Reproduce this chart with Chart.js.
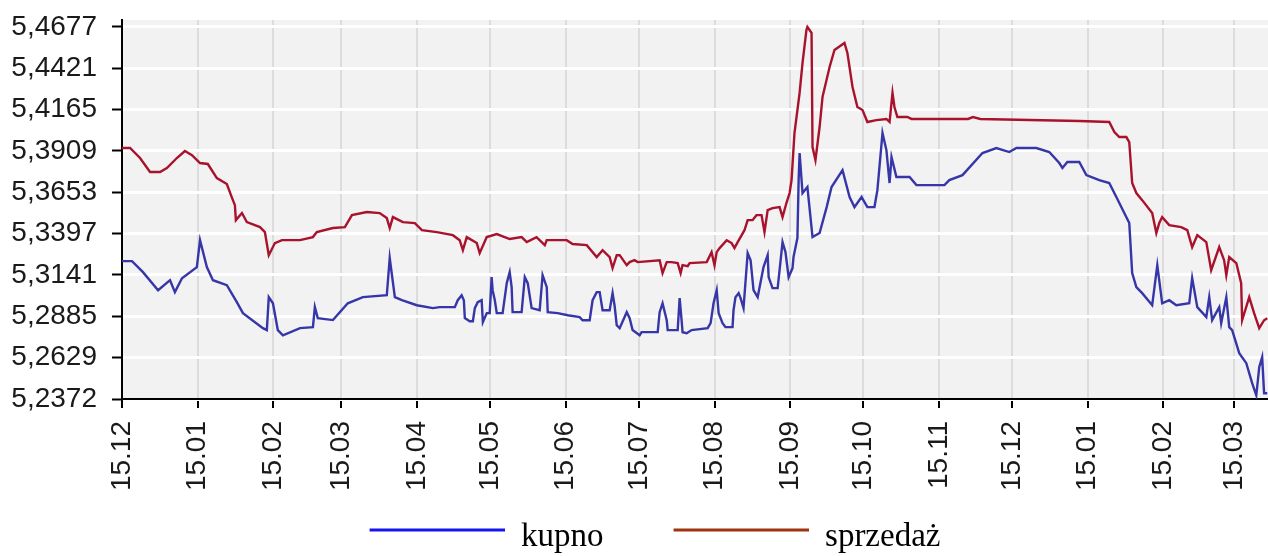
<!DOCTYPE html>
<html>
<head>
<meta charset="utf-8">
<script src="https://cdn.jsdelivr.net/npm/chart.js@4"></script>
<style>
  body { margin: 0; background: #fff; }
</style>
</head>
<body>
<canvas id="chart" width="1268" height="556"></canvas>
<script>
// x = days counted from 15.12
const tickDays = [0, 31, 62, 90, 121, 151, 182, 212, 243, 274, 304, 335, 365, 396, 427, 456];
const tickLabels = ['15.12', '15.01', '15.02', '15.03', '15.04', '15.05', '15.06', '15.07',
  '15.08', '15.09', '15.10', '15.11', '15.12', '15.01', '15.02', '15.03'];
const yTicks = [5.2372, 5.2629, 5.2885, 5.3141, 5.3397, 5.3653, 5.3909, 5.4165, 5.4421, 5.4677];

const seriesNames = ['kupno', 'sprzedaż'];
const lineColors = ['#3636a8', '#a8122c'];
const legendColors = ['#1414f0', '#a0320f'];

const kupnoDays = [
  0, 4.1, 8.6, 14.8, 19.7, 21.7, 24.6, 30.7, 32, 34.8,
  37.3, 43, 47.1, 49.6, 57.8, 59.4, 60.2, 61.9, 63.9, 66,
  73, 78.3, 79.1, 80.3, 86.5, 92.6, 98.8, 108.6, 109.8, 111.9,
  114.8, 120.9, 127.5, 130.3, 136.5, 137.7, 139.3, 140.2, 140.6, 142.6,
  143.9, 144.7, 145.9, 147.5, 148, 149.6, 150.8, 151.6, 152, 152.9,
  153.7, 156.1, 157.8, 159, 159.8, 160.2, 163.9, 165.2, 166.4, 168,
  171.3, 172.5, 174.2, 174.6, 178.7, 182.8, 187.7, 188.9, 191.8, 193,
  194.7, 195.9, 197.1, 200, 201.2, 202, 202.9, 204.1, 207, 208.2,
  209.4, 212.3, 213.1, 219.7, 220.5, 221.7, 223.4, 223.8, 227.9, 228.7,
  229.5, 229.9, 231.6, 233.6, 240.2, 241.4, 242.6, 243.9, 244.7, 246.3,
  247.5, 250.4, 250.8, 251.6, 252.9, 253.7, 254.9, 256.6, 257.8, 259,
  260.7, 263.1, 264.8, 265.2, 266.8, 268.9, 270.9, 272.1, 273.4, 275,
  275.4, 277, 277.5, 277.9, 279.1, 281.1, 283.2, 286.1, 289, 291,
  295.5, 298.4, 300.4, 303.3, 305.7, 308.6, 309.8, 311.9, 313.5, 314.8,
  315.6, 317.6, 323, 325.8, 337.3, 339.3, 344.7, 352.9, 358.6, 363.9,
  366.8, 375, 380.3, 384.4, 385.7, 387.7, 392.6, 395.5, 400.8, 404.9,
  407.8, 413.1, 414.3, 416, 418.4, 422.5, 424.6, 426.6, 429.5, 432.4,
  437.7, 438.9, 441, 444.7, 445.9, 447.1, 450, 450.8, 452.9, 454.1,
  455.3, 458.2, 461.1, 463.5, 465.2, 466.4, 467.6, 468.4, 469.7];
const kupnoValues = [
  5.3226, 5.3226, 5.3158, 5.3046, 5.3108, 5.3034, 5.3120, 5.3189, 5.3356, 5.3189,
  5.3108, 5.3077, 5.2972, 5.2904, 5.2811, 5.2799, 5.3003, 5.2965, 5.2799, 5.2767,
  5.2811, 5.2817, 5.2942, 5.2873, 5.2861, 5.2965, 5.3003, 5.3015, 5.3245, 5.3003,
  5.2984, 5.2953, 5.2935, 5.2941, 5.2941, 5.2984, 5.3015, 5.2984, 5.2873, 5.2854,
  5.2854, 5.2935, 5.2972, 5.2984, 5.2848, 5.2904, 5.2904, 5.3127, 5.3046, 5.2984,
  5.2904, 5.2904, 5.3090, 5.3158, 5.3065, 5.2910, 5.2910, 5.3127, 5.3090, 5.2935,
  5.2922, 5.3139, 5.3065, 5.2910, 5.2904, 5.2891, 5.2879, 5.2860, 5.2860, 5.2984,
  5.3034, 5.3034, 5.2922, 5.2922, 5.3028, 5.2953, 5.2829, 5.2811, 5.2910, 5.2873,
  5.2799, 5.2767, 5.2786, 5.2786, 5.2910, 5.2965, 5.2860, 5.2799, 5.2799, 5.2997,
  5.2860, 5.2786, 5.2780, 5.2799, 5.2811, 5.2842, 5.2965, 5.3046, 5.2904, 5.2842,
  5.2817, 5.2817, 5.2922, 5.3003, 5.3028, 5.2997, 5.2935, 5.3276, 5.3232, 5.3046,
  5.3003, 5.3189, 5.3263, 5.3127, 5.3059, 5.3059, 5.3344, 5.3282, 5.3127, 5.3183,
  5.3251, 5.3369, 5.3728, 5.3896, 5.3648, 5.3685, 5.3375, 5.3400, 5.3561, 5.3685,
  5.3790, 5.3623, 5.3561, 5.3623, 5.3561, 5.3561, 5.3666, 5.4020, 5.3914, 5.3710,
  5.3871, 5.3747, 5.3747, 5.3697, 5.3697, 5.3728, 5.3759, 5.3896, 5.3927, 5.3902,
  5.3927, 5.3927, 5.3902, 5.3834, 5.3803, 5.3840, 5.3840, 5.3759, 5.3728, 5.3710,
  5.3623, 5.3462, 5.3152, 5.3065, 5.3028, 5.2953, 5.3201, 5.2965, 5.2984, 5.2953,
  5.2965, 5.3121, 5.2941, 5.2879, 5.3003, 5.2861, 5.2941, 5.2842, 5.3003, 5.2817,
  5.2799, 5.2656, 5.2594, 5.2470, 5.2395, 5.2569, 5.2631, 5.2408, 5.2408];

const sprzedazDays = [
  0, 3.3, 7.4, 11.5, 15.6, 18.4, 22.5, 25.8, 28.7, 32,
  35.2, 38.9, 43, 45, 46.3, 46.7, 49.2, 51.2, 56.6, 58.6,
  60.2, 62.7, 65.6, 73, 78.3, 79.9, 86.5, 91.4, 94.3, 100.4,
  105.7, 108.6, 109.8, 111.1, 115.2, 120.1, 123, 129.1, 135.7, 138.5,
  139.8, 141.4, 145.5, 146.7, 149.6, 153.7, 159, 163.9, 166, 170,
  173.4, 174.2, 182.4, 184.8, 190.6, 194.7, 197.1, 200, 201.2, 202.9,
  204.1, 207, 208.2, 210.2, 211.5, 220.5, 221.7, 223.4, 225.4, 227.9,
  229.1, 229.9, 232, 232.8, 239.8, 241.8, 243, 243.9, 245.1, 248,
  250, 251.2, 252.5, 255.3, 256.6, 258.6, 260.2, 262.3, 263.5, 264.8,
  266.8, 269.7, 270.9, 272.5, 273.8, 274.6, 275.8, 277.9, 279.1, 280.7,
  281.1, 282.8, 283.2, 284.4, 286.1, 287.3, 290.2, 292.2, 296.3, 297.5,
  299.6, 301.6, 303.7, 305.7, 309.4, 313.5, 314.8, 316, 316.8, 318,
  322.1, 323.8, 347, 349, 352, 392.6, 404.9, 407, 409, 411.9,
  413.1, 414.3, 416, 418.4, 422.5, 424.2, 425.4, 426.6, 429.5, 434.4,
  436.9, 438.9, 441, 444.7, 446.7, 450, 452, 452.9, 454.1, 457,
  459, 459.4, 462.3, 464.3, 466.4, 468.4, 469.7];
const sprzedazValues = [
  5.3927, 5.3927, 5.3865, 5.3778, 5.3778, 5.3803, 5.3865, 5.3908, 5.3883, 5.3834,
  5.3828, 5.3741, 5.3704, 5.3623, 5.3573, 5.3480, 5.3524, 5.3468, 5.3437, 5.3406,
  5.3263, 5.3338, 5.3356, 5.3356, 5.3375, 5.3406, 5.3431, 5.3437, 5.3511, 5.3530,
  5.3524, 5.3493, 5.3431, 5.3499, 5.3468, 5.3462, 5.3418, 5.3406, 5.3387, 5.3356,
  5.3294, 5.3375, 5.3338, 5.3276, 5.3375, 5.3394, 5.3363, 5.3375, 5.3344, 5.3375,
  5.3325, 5.3356, 5.3356, 5.3332, 5.3325, 5.3251, 5.3294, 5.3251, 5.3183, 5.3263,
  5.3263, 5.3201, 5.3220, 5.3232, 5.3220, 5.3232, 5.3152, 5.3220, 5.3220, 5.3214,
  5.3152, 5.3201, 5.3195, 5.3214, 5.3220, 5.3282, 5.3201, 5.3282, 5.3307, 5.3356,
  5.3338, 5.3307, 5.3344, 5.3418, 5.3480, 5.3480, 5.3511, 5.3511, 5.3406, 5.3542,
  5.3555, 5.3561, 5.3499, 5.3586, 5.3648, 5.3728, 5.4020, 5.4268, 5.4454, 5.4658,
  5.4677, 5.4640, 5.3933, 5.3852, 5.4057, 5.4243, 5.4429, 5.4534, 5.4578, 5.4516,
  5.4305, 5.4181, 5.4162, 5.4088, 5.4100, 5.4107, 5.4088, 5.4268, 5.4181, 5.4119,
  5.4119, 5.4107, 5.4107, 5.4119, 5.4107, 5.4094, 5.4088, 5.4026, 5.3995, 5.3995,
  5.3964, 5.3710, 5.3648, 5.3604, 5.3524, 5.3400, 5.3462, 5.3499, 5.3449, 5.3437,
  5.3418, 5.3313, 5.3387, 5.3344, 5.3170, 5.3313, 5.3232, 5.3139, 5.3251, 5.3214,
  5.3090, 5.2860, 5.3003, 5.2904, 5.2811, 5.2860, 5.2873];

function toPoints(days, values) {
  var pts = [];
  for (var i = 0; i < days.length; i++) {
    pts.push({ x: days[i], y: values[i] });
  }
  return pts;
}

// legend marker: a short thick line, sitting a little above the text middle,
// with some empty room on its left so the two entries sit further apart
function legendLine(color) {
  var c = document.createElement('canvas');
  c.width = 177;
  c.height = 20;
  var g = c.getContext('2d');
  g.fillStyle = color;
  g.fillRect(42, 1, 135, 3);
  return c;
}

// grey plot background
const plotBg = {
  id: 'plotBg',
  beforeDraw(chart) {
    const a = chart.chartArea;
    const ctx = chart.ctx;
    ctx.save();
    ctx.fillStyle = '#f2f2f2';
    ctx.fillRect(a.left, a.top, a.right - a.left, a.bottom - a.top);
    ctx.restore();
  }
};

const tickFont = { family: 'Liberation Sans', size: 28 };

new Chart(document.getElementById('chart').getContext('2d'), {
  type: 'line',
  data: {
    datasets: [
      {
        label: seriesNames[0],
        data: toPoints(kupnoDays, kupnoValues),
        borderColor: lineColors[0],
        borderWidth: 2.4,
        pointRadius: 0,
        tension: 0
      },
      {
        label: seriesNames[1],
        data: toPoints(sprzedazDays, sprzedazValues),
        borderColor: lineColors[1],
        borderWidth: 2.4,
        pointRadius: 0,
        tension: 0
      }
    ]
  },
  options: {
    responsive: false,
    animation: false,
    layout: { padding: { top: 20, left: 0, right: 0, bottom: 0 } },
    plugins: {
      tooltip: { enabled: false },
      legend: {
        position: 'bottom',
        maxHeight: 63,
        labels: {
          font: { family: 'Liberation Serif', size: 33 },
          color: '#000',
          usePointStyle: true,
          pointStyleWidth: 177,
          padding: 28,
          generateLabels: function (chart) {
            return chart.data.datasets.map(function (ds, i) {
              return {
                text: ds.label,
                fillStyle: legendColors[i],
                strokeStyle: legendColors[i],
                lineWidth: 0,
                pointStyle: legendLine(legendColors[i]),
                hidden: false,
                datasetIndex: i
              };
            });
          }
        }
      }
    },
    scales: {
      x: {
        type: 'linear',
        min: 0,
        max: 470,
        afterBuildTicks: function (scale) {
          scale.ticks = tickDays.map(function (d) { return { value: d }; });
        },
        afterFit: function (scale) {
          scale.height = 556 - 399 - scale.chart.legend.height;
          scale.paddingLeft = 0;
          scale.paddingRight = 0;
        },
        ticks: {
          autoSkip: false,
          maxRotation: 90,
          minRotation: 90,
          padding: 13,
          color: '#1a1a1a',
          font: tickFont,
          callback: function (v, i) { return tickLabels[i]; }
        },
        grid: {
          color: '#dcdcdc',
          lineWidth: 2,
          tickColor: '#000',
          tickWidth: 2,
          tickLength: 9
        },
        border: { color: '#000', width: 2 }
      },
      y: {
        min: 5.2372,
        max: 5.4720,
        afterBuildTicks: function (scale) {
          scale.ticks = yTicks.map(function (v) { return { value: v }; });
        },
        afterFit: function (scale) {
          scale.width = 122;
          scale.paddingTop = 0;
          scale.paddingBottom = 0;
        },
        ticks: {
          padding: 15,
          color: '#1a1a1a',
          font: tickFont,
          callback: function (v) { return v.toFixed(4).replace('.', ','); }
        },
        grid: {
          color: '#ffffff',
          lineWidth: 3,
          tickColor: '#000',
          tickWidth: 2,
          tickLength: 10
        },
        border: { color: '#000', width: 2 }
      }
    }
  },
  plugins: [plotBg]
});
</script>
</body>
</html>
